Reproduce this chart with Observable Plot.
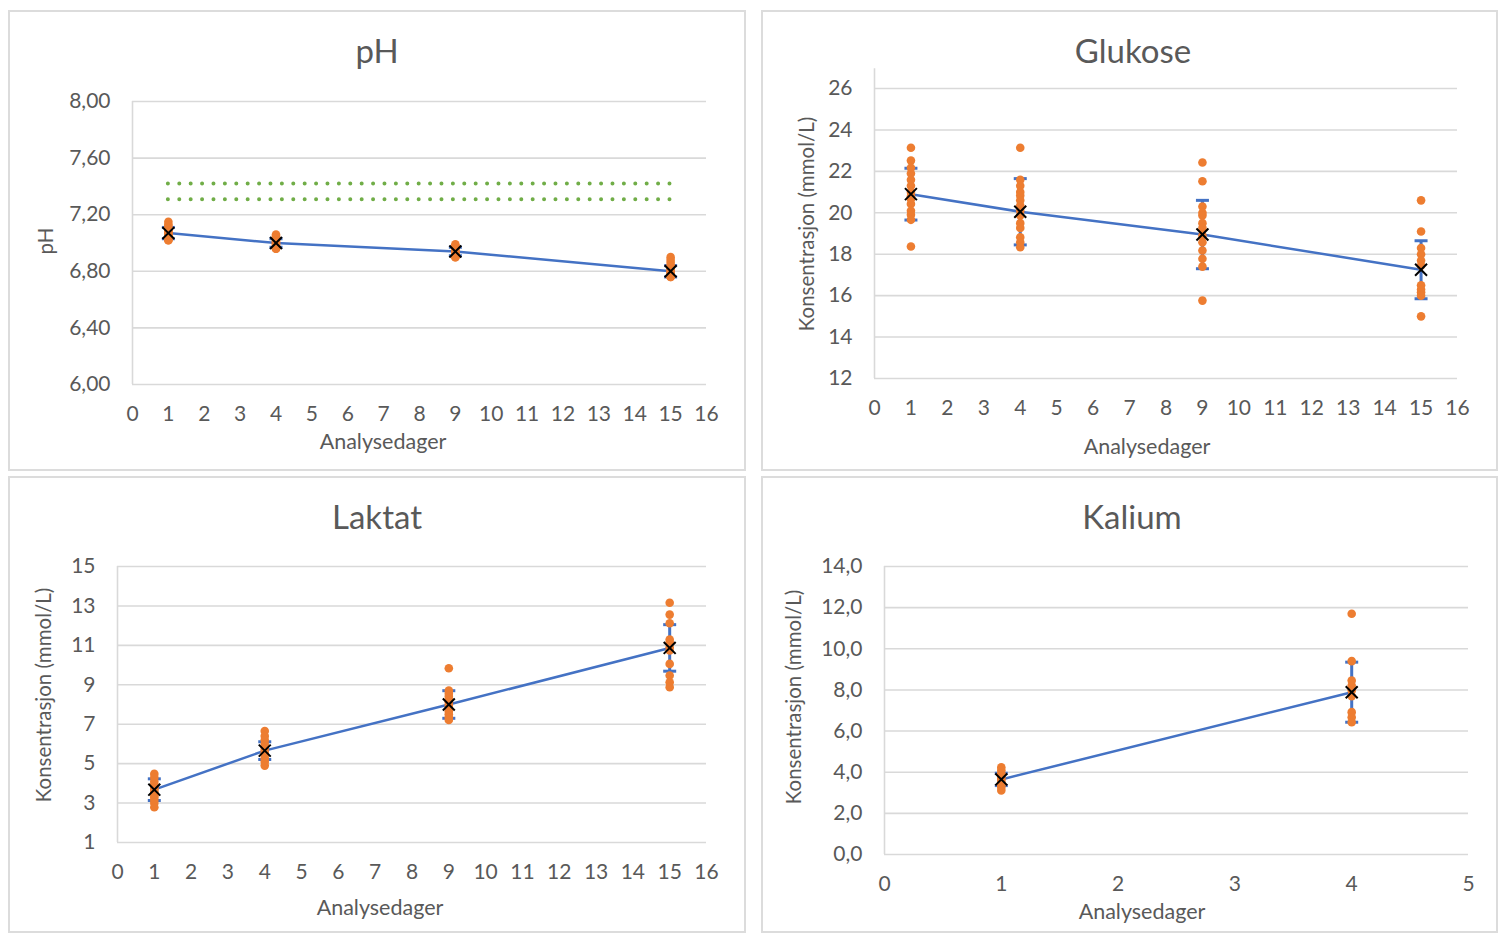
<!DOCTYPE html>
<html><head><meta charset="utf-8">
<script src="https://cdn.jsdelivr.net/npm/d3@7"></script>
<script src="https://cdn.jsdelivr.net/npm/@observablehq/plot@0.6"></script>
<style>
body{margin:0;background:#fff;width:1498px;height:933px;overflow:hidden;position:relative;font-family:Lato,"Open Sans",sans-serif;color:#595959}
.panel{position:absolute;border:2px solid #dcdcdc;box-sizing:border-box}
.lbl{position:absolute;transform:translate(-50%,-50%);white-space:nowrap;color:#595959}
.ylbl{transform:translate(-50%,-50%) rotate(-90deg)}
</style></head><body>
<script>
// ---------- data ----------
const days = [1, 4, 9, 15];
const kaliumDays = [1, 4];

const phDay1 = [7.15,7.13,7.12,7.10,7.09,7.08,7.07,7.07,7.06,7.05,7.04,7.03,7.02,7.02];
const phDay4 = [7.06,7.05,7.04,7.03,7.02,7.01,7.00,7.00,6.99,6.98,6.97,6.96,6.96];
const phDay9 = [6.99,6.98,6.97,6.96,6.95,6.94,6.93,6.93,6.92,6.91,6.90,6.90];
const phDay15 = [6.90,6.88,6.86,6.84,6.83,6.82,6.81,6.80,6.79,6.78,6.77,6.76,6.76];
const phMean = [7.07, 7.00, 6.94, 6.80];
const phSd = [0.04, 0.03, 0.03, 0.04];
const phRefLow = 7.31, phRefHigh = 7.42;

const gluDay1 = [23.14,22.52,22.17,21.9,21.59,21.3,21.0,20.8,20.67,20.43,20.1,19.9,19.66,18.37];
const gluDay4 = [23.14,21.59,21.3,21.0,20.83,20.6,20.35,20.1,19.87,19.5,19.27,18.82,18.58,18.34];
const gluDay9 = [22.43,21.52,20.3,20.0,19.87,19.5,19.27,18.9,18.58,18.18,17.78,17.4,15.76];
const gluDay15 = [20.6,19.1,18.3,18.0,17.7,17.45,16.5,16.3,16.16,16.0,15.0];
const gluMean = [20.9, 20.05, 18.95, 17.25];
const gluSd = [1.25, 1.6, 1.65, 1.4];

const lakDay1 = [4.48,4.3,4.1,3.95,3.8,3.7,3.6,3.5,3.4,3.3,3.15,3.0,2.79];
const lakDay4 = [6.65,6.4,6.2,6.0,5.85,5.7,5.6,5.5,5.4,5.25,5.1,4.9];
const lakDay9 = [9.84,8.71,8.55,8.4,8.25,8.1,7.95,7.8,7.65,7.5,7.35,7.22];
const lakDay15 = [13.16,12.56,12.12,11.3,11.16,10.9,10.74,10.06,9.47,9.13,8.88];
const lakMean = [3.68, 5.66, 8.0, 10.87];
const lakSd = [0.55, 0.45, 0.7, 1.18];

const kalDay1 = [4.24,4.1,3.95,3.85,3.75,3.65,3.55,3.45,3.35,3.25,3.11];
const kalDay4 = [11.7,9.4,8.46,8.21,7.97,7.7,6.92,6.67,6.43];
const kalMean = [3.65, 7.89];
const kalSd = [0.3, 1.46];

const xTicks16 = d3.range(0, 17);
const xTicks5 = [0,1,2,3,4,5];
const phTicks = [6.0,6.4,6.8,7.2,7.6,8.0];
const gluTicks = [12,14,16,18,20,22,24,26];
const lakTicks = [1,3,5,7,9,11,13,15];
const kalTicks = [0,2,4,6,8,10,12,14];

// ---------- drawing ----------
const BLUE = "#4472C4", ORANGE = "#ED7D31", GREEN = "#70AD47", GRID = "#d9d9d9";
const capSymbol = {draw(ctx, size){ const r = Math.sqrt(size / Math.PI); ctx.moveTo(-r, 0); ctx.lineTo(r, 0); }};

function addLabel(text, x, y, size, cls){
  const d = document.createElement("div");
  d.className = "lbl" + (cls ? " " + cls : "");
  d.textContent = text;
  d.style.left = x + "px"; d.style.top = y + "px"; d.style.fontSize = size + "px";
  document.body.appendChild(d);
}

function panel(cfg){
  const box = document.createElement("div");
  box.className = "panel";
  Object.assign(box.style, {left: cfg.box[0]+"px", top: cfg.box[1]+"px", width: cfg.box[2]+"px", height: cfg.box[3]+"px"});
  document.body.appendChild(box);

  const pts = cfg.values.flatMap((arr, i) => arr.map(v => ({x: cfg.days[i], y: v})));
  const sum = cfg.days.map((d, i) => ({x: d, mean: cfg.mean[i], lo: cfg.mean[i] - cfg.sd[i], hi: cfg.mean[i] + cfg.sd[i]}));
  const caps = sum.flatMap(s => [{x: s.x, y: s.lo}, {x: s.x, y: s.hi}]);

  const marks = [
    Plot.gridY(cfg.yTicks, {stroke: GRID, strokeOpacity: 1, strokeWidth: 1.6}),
    Plot.ruleX([cfg.xDomain[0]], {y1: cfg.yDomain[0], y2: cfg.axisTop, stroke: GRID, strokeWidth: 1.6}),
    Plot.axisY(cfg.yTicks, {tickSize: 0, tickPadding: 22, fontSize: 21, tickFormat: cfg.fmt, label: null}),
    Plot.axisX(cfg.xTicks, {tickSize: 0, tickPadding: 22, fontSize: 21, tickFormat: d => String(d), label: null}),
    ...(cfg.extra || []),
    Plot.ruleX(sum, {x: "x", y1: "lo", y2: "hi", stroke: BLUE, strokeWidth: 3}),
    Plot.dot(caps, {x: "x", y: "y", symbol: capSymbol, r: 6.5, stroke: BLUE, strokeWidth: 3}),
    Plot.line(sum, {x: "x", y: "mean", stroke: BLUE, strokeWidth: 2.5}),
    Plot.dot(pts, {x: "x", y: "y", r: 4.3, fill: ORANGE, stroke: "none"}),
    Plot.dot(sum, {x: "x", y: "mean", symbol: "times", r: 5.5, stroke: "#000", strokeWidth: 2})
  ];

  const svg = Plot.plot({
    width: cfg.box[2], height: cfg.box[3],
    marginLeft: cfg.m[0], marginRight: cfg.m[1], marginTop: cfg.m[2], marginBottom: cfg.m[3],
    x: {domain: cfg.xDomain},
    y: {domain: cfg.yDomain},
    style: {background: "transparent", color: "#595959", fontFamily: "Lato, 'Open Sans', sans-serif"},
    marks
  });
  svg.style.position = "absolute";
  svg.style.left = cfg.box[0] + "px";
  svg.style.top = cfg.box[1] + "px";
  document.body.appendChild(svg);

  addLabel(cfg.title, cfg.titlePos[0], cfg.titlePos[1], 33);
  addLabel(cfg.ylabel, cfg.ylabelPos[0], cfg.ylabelPos[1], 20.5, "ylbl");
  addLabel("Analysedager", cfg.xlabelPos[0], cfg.xlabelPos[1], 21.5);
}

panel({
  title: "pH", ylabel: "pH",
  box: [8, 10, 738, 461], m: [124, 40, 91, 87],
  xDomain: [0, 16], yDomain: [6, 8], axisTop: 8,
  xTicks: xTicks16, yTicks: phTicks, fmt: d => d.toFixed(2).replace(".", ","),
  days, values: [phDay1, phDay4, phDay9, phDay15], mean: phMean, sd: phSd,
  extra: [Plot.ruleY([phRefHigh, phRefLow], {x1: days[0], x2: days[days.length - 1], stroke: GREEN, strokeWidth: 4, strokeDasharray: "0 11.4", strokeLinecap: "round"})],
  titlePos: [377, 50], ylabelPos: [45, 241], xlabelPos: [383, 441]
});

panel({
  title: "Glukose", ylabel: "Konsentrasjon (mmol/L)",
  box: [761, 10, 737, 461], m: [113, 41, 78, 93],
  xDomain: [0, 16], yDomain: [12, 26], axisTop: 26.95,
  xTicks: xTicks16, yTicks: gluTicks, fmt: d => String(d),
  days, values: [gluDay1, gluDay4, gluDay9, gluDay15], mean: gluMean, sd: gluSd,
  titlePos: [1133, 50], ylabelPos: [806, 224], xlabelPos: [1147, 446]
});

panel({
  title: "Laktat", ylabel: "Konsentrasjon (mmol/L)",
  box: [8, 476, 738, 457], m: [109, 40, 90, 91],
  xDomain: [0, 16], yDomain: [1, 15], axisTop: 15,
  xTicks: xTicks16, yTicks: lakTicks, fmt: d => String(d),
  days, values: [lakDay1, lakDay4, lakDay9, lakDay15], mean: lakMean, sd: lakSd,
  titlePos: [377, 516], ylabelPos: [43, 695], xlabelPos: [380, 907]
});

panel({
  title: "Kalium", ylabel: "Konsentrasjon (mmol/L)",
  box: [761, 476, 737, 457], m: [123, 30, 90, 79],
  xDomain: [0, 5], yDomain: [0, 14], axisTop: 14,
  xTicks: xTicks5, yTicks: kalTicks, fmt: d => d.toFixed(1).replace(".", ","),
  days: kaliumDays, values: [kalDay1, kalDay4], mean: kalMean, sd: kalSd,
  titlePos: [1132, 516], ylabelPos: [793, 697], xlabelPos: [1142, 911]
});
</script>
</body></html>
